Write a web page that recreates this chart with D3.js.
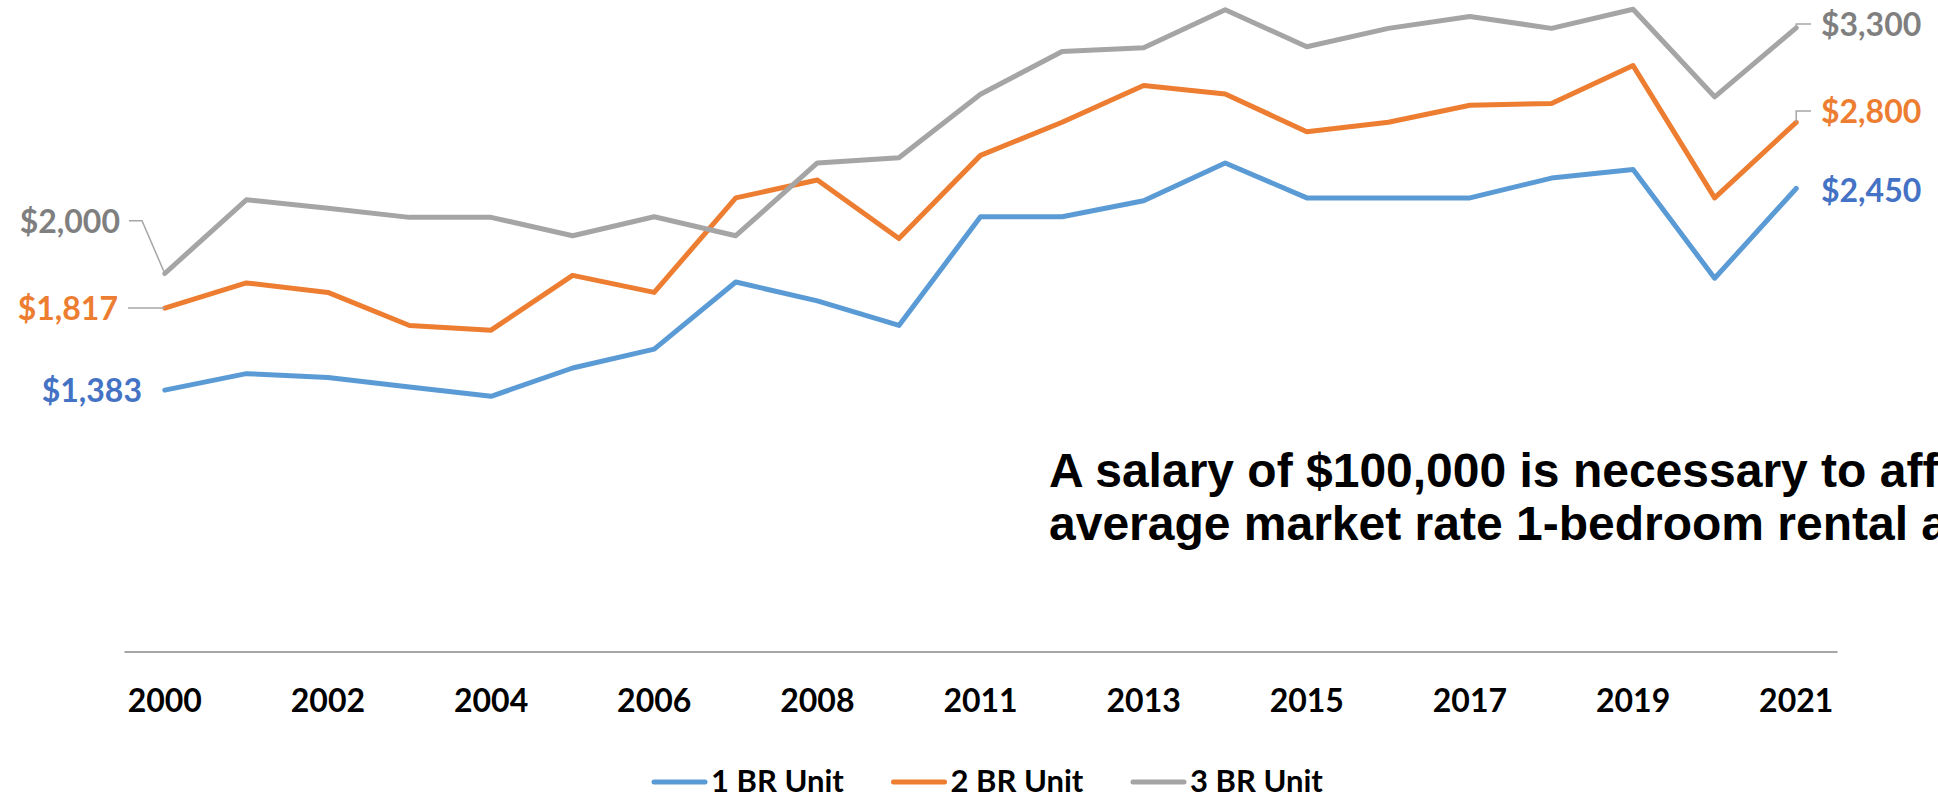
<!DOCTYPE html>
<html>
<head>
<meta charset="utf-8">
<script src="https://cdn.jsdelivr.net/npm/d3@7"></script>
<style>
body { margin: 0; background: #fff; }
svg { display: block; }
</style>
</head>
<body>
<div id="chart"></div>
<script>
// years on the x axis (only every other one is labelled)
var years = ["2000", "2001", "2002", "2003", "2004", "2005", "2006", "2007", "2008", "2010",
             "2011", "2012", "2013", "2014", "2015", "2016", "2017", "2018", "2019", "2020", "2021"];
var oneBR   = [1383, 1470, 1450, 1400, 1350, 1500, 1600, 1955, 1855, 1725, 2300,
               2300, 2385, 2585, 2400, 2400, 2400, 2505, 2550, 1975, 2450];
var twoBR   = [1817, 1950, 1900, 1725, 1700, 1990, 1900, 2400, 2495, 2185, 2625,
               2800, 2995, 2950, 2750, 2800, 2890, 2900, 3100, 2400, 2800];
var threeBR = [2000, 2390, 2345, 2297, 2297, 2200, 2300, 2200, 2585, 2612, 2948,
               3175, 3195, 3395, 3200, 3297, 3360, 3297, 3398, 2935, 3300];
var seriesNames = ["1 BR Unit", "2 BR Unit", "3 BR Unit"];
var noteLines = ["A salary of $100,000 is necessary to afford the",
                 "average market rate 1-bedroom rental apartment"];

var width = 1938,
    height = 795;

var lineColors  = ["#5B9BD5", "#ED7D31", "#A5A5A5"];
var labelColors = ["#4472C4", "#ED7D31", "#7F7F7F"];
var font = "Lato, 'Open Sans', sans-serif";

var svg = d3.select('#chart').append('svg')
    .attr('width', width)
    .attr('height', height);

var x = d3.scaleBand().domain(years).range([124, 1837]);
var y = d3.scaleLinear().domain([0, 3500]).range([651.5, -10]);
var cx = function(i) { return x(years[i]) + x.bandwidth() / 2; };

// x axis
var axis = svg.append('g')
    .attr('transform', 'translate(0,' + y(0) + ')')
    .call(d3.axisBottom(x)
        .tickValues(years.filter(function(d, i) { return i % 2 == 0; }))
        .tickSize(0)
        .tickSizeOuter(0));
axis.select('.domain').attr('stroke', '#A6A6A6').attr('stroke-width', 2);
axis.selectAll('text')
    .attr('y', 60).attr('dy', null)
    .attr('fill', '#000')
    .style('font-family', font)
    .style('font-weight', 'bold')
    .style('font-size', '32px');

// lines
var series = [oneBR, twoBR, threeBR];
var lineFunc = d3.line()
    .x(function(d, i) { return cx(i); })
    .y(function(d) { return y(d); });

svg.selectAll('.series').data(series).enter().append('path')
    .attr('class', 'series')
    .attr('fill', 'none')
    .attr('stroke', function(d, i) { return lineColors[i]; })
    .attr('stroke-width', 5)
    .attr('stroke-linejoin', 'round')
    .attr('stroke-linecap', 'round')
    .attr('d', lineFunc);

// end labels with leader lines
var last = years.length - 1;
var labels = [
    // series, point index, text x, text centre y, leader type
    {s: 2, i: 0, anchor: 'end', tx: 120, ty: 221.7, lead: 'left'},
    {s: 1, i: 0, anchor: 'end', tx: 118, ty: 308, lead: 'flat'},
    {s: 0, i: 0, anchor: 'end', tx: 142, ty: 390.7, lead: null},
    {s: 2, i: last, anchor: 'start', tx: 1821, ty: 24, lead: 'right'},
    {s: 1, i: last, anchor: 'start', tx: 1821, ty: 111, lead: 'right'},
    {s: 0, i: last, anchor: 'start', tx: 1821, ty: 190.7, lead: null}
];

labels.forEach(function(l) {
    var px = cx(l.i), py = y(series[l.s][l.i]);
    var pts = null;
    if (l.lead == 'left') pts = [[l.tx + 9, l.ty - 1], [l.tx + 22, l.ty - 1], [px, py]];
    if (l.lead == 'flat') pts = [[l.tx + 10, py], [px, py]];
    if (l.lead == 'right') pts = [[px, py], [px, l.ty], [l.tx - 10, l.ty]];
    if (pts) {
        svg.append('path')
            .attr('d', d3.line()(pts))
            .attr('fill', 'none')
            .attr('stroke', '#A6A6A6')
            .attr('stroke-width', 1.5);
    }
    svg.append('text')
        .attr('x', l.tx)
        .attr('y', l.ty + 11.5)
        .attr('text-anchor', l.anchor)
        .attr('fill', labelColors[l.s])
        .style('font-family', font)
        .style('font-weight', 'bold')
        .style('font-size', '32px')
        .text('$' + d3.format(',')(series[l.s][l.i]));
});

// note (runs past the right edge, as in the original slide)
svg.selectAll('.note').data(noteLines).enter().append('text')
    .attr('class', 'note')
    .attr('x', 1049)
    .attr('y', function(d, i) { return 487 + i * 53; })
    .attr('fill', '#000')
    .style('font-family', "Arial, 'Liberation Sans', sans-serif")
    .style('font-weight', 'bold')
    .style('font-size', '48px')
    .text(function(d) { return d; });

// legend
var legend = svg.selectAll('.legend').data(seriesNames).enter().append('g')
    .attr('class', 'legend')
    .attr('transform', function(d, i) { return 'translate(' + (654 + i * 239.5) + ',782)'; });
legend.append('line')
    .attr('x1', 0).attr('x2', 51)
    .attr('stroke', function(d, i) { return lineColors[i]; })
    .attr('stroke-width', 5)
    .attr('stroke-linecap', 'round');
legend.append('text')
    .attr('x', 57)
    .attr('y', 10)
    .attr('fill', '#000')
    .style('font-family', font)
    .style('font-weight', 'bold')
    .style('font-size', '31px')
    .text(function(d) { return d; });
</script>
</body>
</html>
